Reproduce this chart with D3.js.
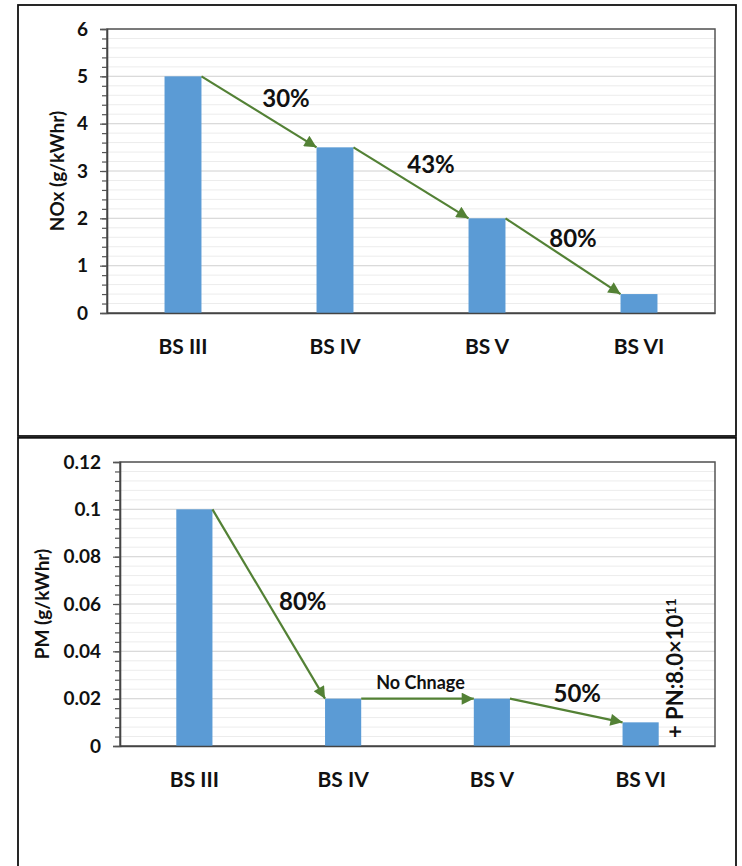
<!DOCTYPE html>
<html>
<head>
<meta charset="utf-8">
<script src="https://cdn.jsdelivr.net/npm/d3@7"></script>
<style>
  body { margin: 0; background: #fff; }
  text { font-family: Lato, "Open Sans", sans-serif; font-weight: bold; fill: #111; }
</style>
</head>
<body>
<div id="chart"></div>
<script>
const categories = ['BS III', 'BS IV', 'BS V', 'BS VI'];

const noxValues = [5, 3.5, 2, 0.4];
const noxTicks = [0, 1, 2, 3, 4, 5, 6];
const noxTickLabels = ['0', '1', '2', '3', '4', '5', '6'];
const noxChanges = ['30%', '43%', '80%'];

const pmValues = [0.1, 0.02, 0.02, 0.01];
const pmTicks = [0, 0.02, 0.04, 0.06, 0.08, 0.1, 0.12];
const pmTickLabels = ['0', '0.02', '0.04', '0.06', '0.08', '0.1', '0.12'];
const pmChanges = ['80%', 'No Chnage', '50%'];

const pnNote = '+ PN:8.0×10';
const pnExponent = '11';

const width = 742;
const height = 866;
const barColor = '#5b9bd5';
const arrowColor = '#538135';

const svg = d3.select('#chart')
  .append('svg')
  .attr('width', width)
  .attr('height', height);

svg.append('defs').append('marker')
  .attr('id', 'arrow')
  .attr('viewBox', '0 0 10 10')
  .attr('refX', 10)
  .attr('refY', 5)
  .attr('markerWidth', 6.5)
  .attr('markerHeight', 5.5)
  .attr('markerUnits', 'strokeWidth')
  .attr('orient', 'auto')
  .append('path')
  .attr('d', 'M0,0 L10,5 L0,10 Z')
  .attr('fill', arrowColor);

// two framed panels
svg.append('rect')
  .attr('x', 18).attr('y', 5).attr('width', 718).attr('height', 431)
  .attr('fill', 'none').attr('stroke', '#111').attr('stroke-width', 1.8);
svg.append('rect')
  .attr('x', 18).attr('y', 437.8).attr('width', 718).attr('height', 460)
  .attr('fill', 'none').attr('stroke', '#111').attr('stroke-width', 1.8);

function drawPanel(cfg) {
  const g = svg.append('g');
  const { left, right, top, bottom } = cfg;

  const x = d3.scaleBand()
    .domain(categories)
    .range([left, right])
    .paddingInner(0.757)
    .paddingOuter(0.3785);
  const y = d3.scaleLinear()
    .domain([0, cfg.max])
    .range([bottom, top]);

  const minor = d3.range(0, cfg.max + cfg.minorStep / 2, cfg.minorStep);

  // gridlines
  g.append('g')
    .selectAll('line')
    .data(minor)
    .enter()
    .append('line')
    .attr('x1', left).attr('x2', right)
    .attr('y1', d => y(d)).attr('y2', d => y(d))
    .attr('stroke', '#ececec')
    .attr('stroke-width', 1);
  g.append('g')
    .selectAll('line')
    .data(cfg.ticks)
    .enter()
    .append('line')
    .attr('x1', left).attr('x2', right)
    .attr('y1', d => y(d)).attr('y2', d => y(d))
    .attr('stroke', '#dadada')
    .attr('stroke-width', 1.2);

  // plot border
  g.append('rect')
    .attr('x', left).attr('y', top)
    .attr('width', right - left).attr('height', bottom - top)
    .attr('fill', 'none')
    .attr('stroke', '#555')
    .attr('stroke-width', 1.5);

  // bars
  g.selectAll('.bar')
    .data(cfg.values)
    .enter()
    .append('rect')
    .attr('class', 'bar')
    .attr('x', (d, i) => x(categories[i]))
    .attr('y', d => y(d))
    .attr('width', x.bandwidth())
    .attr('height', d => bottom - y(d))
    .attr('fill', barColor);

  // y axis: minor then major ticks
  const yMinor = d3.axisLeft(y).tickValues(minor).tickSize(5).tickFormat('');
  g.append('g')
    .attr('transform', `translate(${left},0)`)
    .call(yMinor)
    .call(a => a.select('.domain').remove())
    .call(a => a.selectAll('line').attr('stroke', '#555').attr('stroke-width', 1.2));

  const yAxis = d3.axisLeft(y)
    .tickValues(cfg.ticks)
    .tickSize(7)
    .tickPadding(12)
    .tickFormat((d, i) => cfg.tickLabels[i]);
  g.append('g')
    .attr('transform', `translate(${left},0)`)
    .call(yAxis)
    .call(a => a.select('.domain').attr('stroke', '#444').attr('stroke-width', 1.6))
    .call(a => a.selectAll('line').attr('stroke', '#555').attr('stroke-width', 1.2))
    .call(a => a.selectAll('text')
      .style('font-family', 'Lato, sans-serif')
      .style('font-weight', 'bold')
      .style('font-size', '19px')
      .attr('fill', '#111'));

  // x axis
  const xAxis = d3.axisBottom(x).tickSize(0).tickSizeOuter(0).tickPadding(26);
  g.append('g')
    .attr('transform', `translate(0,${bottom})`)
    .call(xAxis)
    .call(a => a.select('.domain').attr('stroke', '#444').attr('stroke-width', 1.6))
    .call(a => a.selectAll('text')
      .style('font-family', 'Lato, sans-serif')
      .style('font-weight', 'bold')
      .style('font-size', '21px')
      .attr('fill', '#111'));

  // y title
  g.append('text')
    .attr('transform', `translate(${cfg.titleX},${(top + bottom) / 2}) rotate(-90)`)
    .attr('text-anchor', 'middle')
    .attr('dy', '0.36em')
    .style('font-size', '19px')
    .text(cfg.title);

  // change arrows and labels
  cfg.changes.forEach((label, i) => {
    const x1 = x(categories[i]) + x.bandwidth();
    const y1 = y(cfg.values[i]);
    const x2 = x(categories[i + 1]);
    const y2 = y(cfg.values[i + 1]);
    g.append('line')
      .attr('x1', x1).attr('y1', y1)
      .attr('x2', x2).attr('y2', y2)
      .attr('stroke', arrowColor)
      .attr('stroke-width', 2.2)
      .attr('marker-end', 'url(#arrow)');
    const off = cfg.labelOffsets[i];
    g.append('text')
      .attr('x', (x1 + x2) / 2 + off[0])
      .attr('y', (y1 + y2) / 2 + off[1])
      .attr('text-anchor', 'middle')
      .attr('dy', '0.36em')
      .style('font-size', off[2] + 'px')
      .text(label);
  });

  return { x, y };
}

drawPanel({
  left: 107, right: 715, top: 29, bottom: 313,
  max: 6, minorStep: 0.2,
  values: noxValues, ticks: noxTicks, tickLabels: noxTickLabels,
  title: 'NOx (g/kWhr)', titleX: 57,
  changes: noxChanges,
  labelOffsets: [[27, -13, 24], [20, -18, 24], [10, -18, 24]]
});

const pm = drawPanel({
  left: 120, right: 715, top: 462, bottom: 746,
  max: 0.12, minorStep: 0.004,
  values: pmValues, ticks: pmTicks, tickLabels: pmTickLabels,
  title: 'PM (g/kWhr)', titleX: 42,
  changes: pmChanges,
  labelOffsets: [[34, -3, 24], [3, -16, 18], [11, -17, 24]]
});

// particle number note beside the BS VI bar
const noteX = pm.x('BS VI') + pm.x.bandwidth() + 24;
const note = svg.append('text')
  .attr('transform', `translate(${noteX},738) rotate(-90)`)
  .style('font-size', '22px');
note.append('tspan').text(pnNote);
note.append('tspan')
  .attr('dy', '-0.5em')
  .style('font-size', '14px')
  .text(pnExponent);
</script>
</body>
</html>
